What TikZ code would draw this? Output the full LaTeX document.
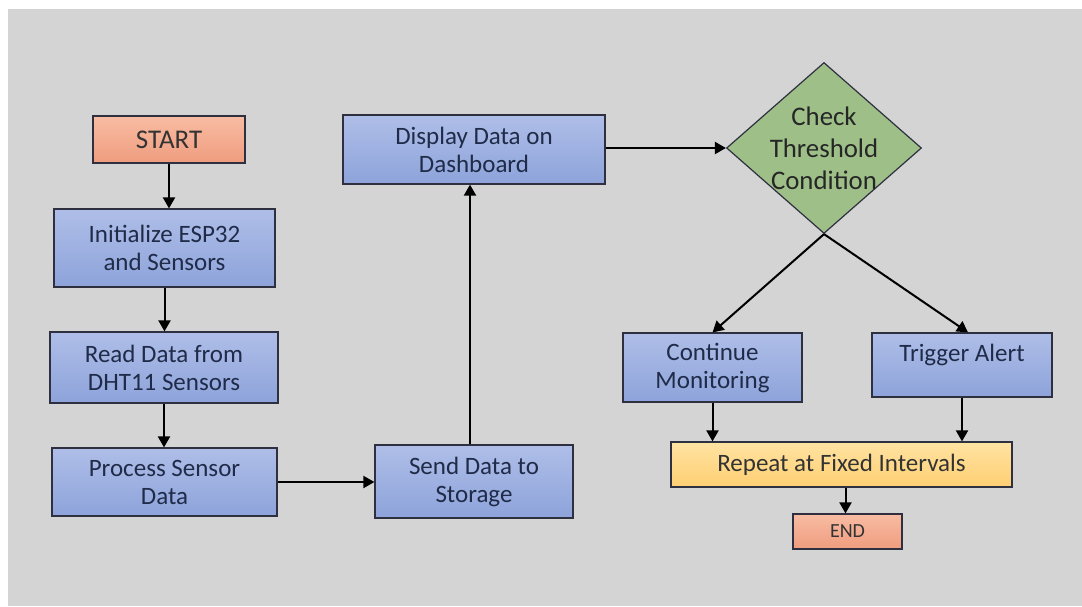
\documentclass[tikz,border=0pt]{standalone}
\usepackage{fontspec}
\setmainfont{Carlito}
\usepackage{tikz}
\usetikzlibrary{arrows.meta,shapes.geometric}

\definecolor{bggray}{HTML}{D4D4D4}
\definecolor{edgecol}{HTML}{2E3040}
\definecolor{bluetop}{HTML}{AFBEE8}
\definecolor{bluebot}{HTML}{8DA3DA}
\definecolor{salmontop}{HTML}{F8BCA3}
\definecolor{salmonbot}{HTML}{EF9C7E}
\definecolor{yeltop}{HTML}{FFE3A2}
\definecolor{yelbot}{HTML}{FFCF72}
\definecolor{diagreen}{HTML}{9EC088}
\definecolor{txtblue}{HTML}{1F2B48}

\begin{document}
\begin{tikzpicture}[x=0.5pt, y=-0.5pt,
  box/.style={draw=edgecol, line width=0.6pt, top color=bluetop, bottom color=bluebot,
    align=center, text=txtblue, inner sep=0pt, font=\fontsize{12.5}{14}\selectfont},
  term/.style={box, top color=salmontop, bottom color=salmonbot, text=black!80},
  loopbox/.style={box, top color=yeltop, bottom color=yelbot, text=black!80},
  dia/.style={diamond, draw=edgecol, line width=0.6pt, fill=diagreen, inner sep=0pt},
  flow/.style={line width=1pt, -{Triangle[length=5.5pt, width=6pt]}}]
  \useasboundingbox (0,0) rectangle (1082,606);
  \fill[bggray] (8,9) rectangle (1082,606);
  % left column
  \node[term, minimum width=76pt, minimum height=23.5pt, font=\fontsize{13.5}{15}\selectfont] (start) at (169,139.5) {START};
  \node[box, minimum width=110.5pt, minimum height=39pt] (init) at (164.5,248) {Initialize ESP32\\and Sensors};
  \node[box, minimum width=114pt, minimum height=35.5pt] (read) at (164,367.5) {Read Data from\\DHT11 Sensors};
  \node[box, minimum width=112.5pt, minimum height=34pt] (proc) at (164.5,482) {Process Sensor\\Data};
  % middle column
  \node[box, minimum width=99pt, minimum height=36.5pt] (send) at (474,481.5) {Send Data to\\Storage};
  \node[box, minimum width=131pt, minimum height=34.5pt] (disp) at (474,149.5) {Display Data on\\Dashboard};
  % decision
  \node[dia, minimum width=97.5pt, minimum height=85.5pt] (check) at (824,148) {};
  \node[align=center, text=black!85, font=\fontsize{13.4}{16}\selectfont] (checktext) at (check) {Check\\Threshold\\Condition};
  % right part
  \node[box, minimum width=89.5pt, minimum height=34.5pt] (cont) at (712.5,367.5) {Continue\\Monitoring};
  \node[box, minimum width=90pt, minimum height=32pt, text depth=12pt] (trig) at (962,365) {Trigger Alert};
  \node[loopbox, minimum width=170.5pt, minimum height=22.5pt] (rep) at (841.5,464.5) {Repeat at Fixed Intervals};
  \node[term, minimum width=54.5pt, minimum height=17.5pt, font=\fontsize{10}{12}\selectfont] (stop) at (847.5,531.5) {END};
  % connectors
  \draw[flow] (start.south) -- (start.south |- init.north);
  \draw[flow] (init.south) -- (init.south |- read.north);
  \draw[flow] (read.south) -- (read.south |- proc.north);
  \draw[flow] (proc.east) -- (proc.east -| send.west);
  \draw[flow] ([xshift=-2pt]send.north) -- ([xshift=-2pt]send.north |- disp.south);
  \draw[flow] (disp.east |- check.west) -- (check.west);
  \draw[flow] (check.south) -- (cont.north);
  \draw[flow] (check.south) -- ([xshift=3pt]trig.north);
  \draw[flow] (cont.south) -- (cont.south |- rep.north);
  \draw[flow] (trig.south) -- (trig.south |- rep.north);
  \draw[flow] ([xshift=2pt]rep.south) -- ([xshift=2pt]rep.south |- stop.north);
\end{tikzpicture}
\end{document}
